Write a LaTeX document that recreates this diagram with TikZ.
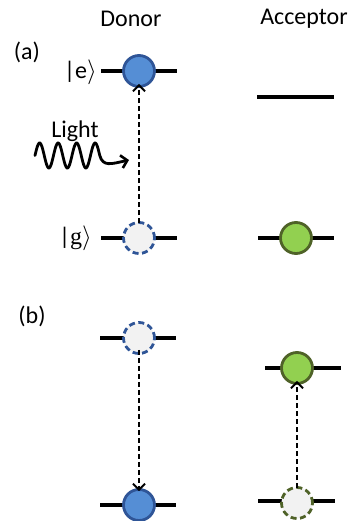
\documentclass[tikz,border=0pt]{standalone}
\usepackage{fontspec}
\setmainfont{Carlito}
\newfontfamily\serifg{Liberation Serif}
\usetikzlibrary{arrows.meta}
\definecolor{bluefill}{HTML}{558ED5}
\definecolor{blueline}{HTML}{2F5597}
\definecolor{greenfill}{HTML}{92D050}
\definecolor{greenline}{HTML}{4F6228}
\definecolor{emptyfill}{HTML}{F2F2F2}
\tikzset{
  lbl/.style={font=\fontsize{24}{28}\selectfont, inner sep=0pt},
  level/.style={line width=4.5pt},
  stbase/.style={circle, minimum size=31pt, inner sep=0pt, line width=2.8pt},
  dfull/.style={stbase, draw=blueline, fill=bluefill},
  dempty/.style={stbase, draw=blueline, fill=emptyfill, dash pattern=on 6pt off 3.5pt},
  afull/.style={stbase, draw=greenline, fill=greenfill},
  aempty/.style={stbase, draw=greenline, fill=emptyfill, dash pattern=on 6pt off 3.5pt},
  trans/.style={line width=2pt, dash pattern=on 5pt off 3pt, -{Straight Barb[length=6pt,width=12pt,line width=2pt]}},
}
\begin{document}
\begin{tikzpicture}[x=1pt,y=-1pt]
\path[use as bounding box] (0,0) rectangle (360,521);
% headers
\node[lbl] (donor) at (131,19) {Donor};
\node[lbl] (acceptor) at (304,19) {Acceptor};
\node[lbl] (pa) at (27,52) {(a)};
\node[lbl] (pb) at (32,316) {(b)};
% (a) donor levels
\coordinate (aeL) at (101,71); \coordinate (aeR) at (177,71);
\coordinate (agL) at (101,238); \coordinate (agR) at (177,238);
\draw[level] (aeL) -- (aeR);
\draw[level] (agL) -- (agR);
\node[dfull] (eD) at (139,71) {};
\node[dempty] (gD) at (139,238) {};
\node[lbl, anchor=east] (ket e) at (97,72) {|e$\rangle$};
\node[lbl, anchor=east] (ket g) at (92,238) {|{\serifg g}$\rangle$};
\draw[trans] ([yshift=-2pt]gD.north) -- ([yshift=4pt]eD.south);
% (a) acceptor levels
\coordinate (aaeL) at (257,97); \coordinate (aaeR) at (334,97);
\coordinate (aagL) at (258,238); \coordinate (aagR) at (334,238);
\draw[level] (aaeL) -- (aaeR);
\draw[level] (aagL) -- (aagR);
\node[afull] (gA) at (296,238) {};
% light
\node[lbl] (light) at (75,131) {Light};
\coordinate (lightend) at (129,160);
\draw[line width=2.8pt, line cap=round, -{Straight Barb[length=6pt,width=13pt,line width=2.6pt]}]
  plot[domain=0:3.5, samples=120, smooth] ({35+18.5*\x},{155.5-12.5*sin(360*\x)})
  .. controls (103,167) and (111,164) .. (lightend);
% (b) donor
\coordinate (beL) at (100,338); \coordinate (beR) at (176,338);
\coordinate (bgL) at (100,505); \coordinate (bgR) at (176,505);
\draw[level] (beL) -- (beR);
\draw[level] (bgL) -- (bgR);
\node[dempty] (eD2) at (139,338) {};
\node[dfull] (gD2) at (139,505) {};
\draw[trans] ([yshift=5pt]eD2.south) -- ([yshift=-3pt]gD2.north);
% (b) acceptor
\coordinate (beAL) at (265,368); \coordinate (beAR) at (341,368);
\coordinate (bgAL) at (258,501); \coordinate (bgAR) at (335,501);
\draw[level] (beAL) -- (beAR);
\draw[level] (bgAL) -- (bgAR);
\node[afull] (eA2) at (297,368) {};
\node[aempty] (gA2) at (297,503) {};
\draw[trans] ([yshift=-2pt]gA2.north) -- ([yshift=4pt]eA2.south);
\end{tikzpicture}
\end{document}
